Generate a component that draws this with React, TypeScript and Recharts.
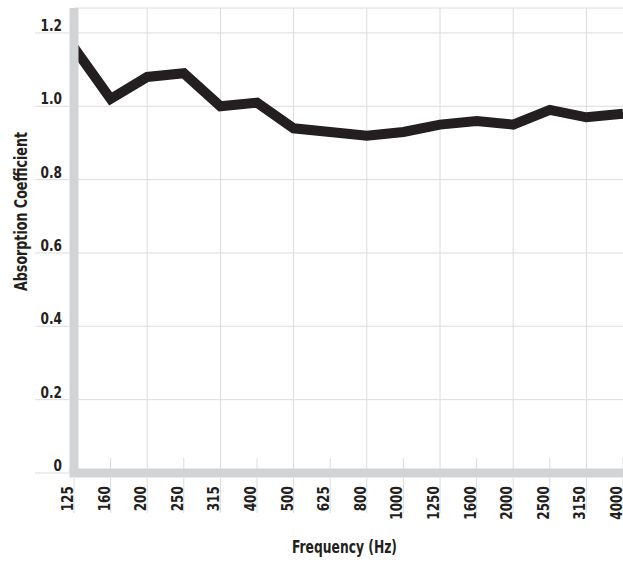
import React from "react";
import { LineChart, Line, XAxis, YAxis, CartesianGrid, ReferenceLine, Label } from "recharts";

const FREQUENCIES = ["125", "160", "200", "250", "315", "400", "500", "625", "800", "1000", "1250", "1600", "2000", "2500", "3150", "4000"];
const ABSORPTION = [1.16, 1.02, 1.08, 1.09, 1.0, 1.01, 0.94, 0.93, 0.92, 0.93, 0.95, 0.96, 0.95, 0.99, 0.97, 0.98];
const Y_TICKS = [0, 0.2, 0.4, 0.6, 0.8, 1.0, 1.2];
const Y_LABELS = ["0", "0.2", "0.4", "0.6", "0.8", "1.0", "1.2"];

const data = FREQUENCIES.map((freq, i) => ({ freq, value: ABSORPTION[i] }));

// every other band gets a full grid line, the rest a short mark above the axis
const MAJOR = FREQUENCIES.filter((_, i) => i % 2 === 0 && i > 0);
const MINOR = FREQUENCIES.filter((_, i) => i % 2 === 1);

const FONT = '"Liberation Sans Narrow", "DejaVu Sans Condensed", "Arial Narrow", sans-serif';
const GRID = "#dcdcdc";
const AXIS = "#d1d3d4";
const INK = "#231f20";

const XTick = (props: any) => {
  const { x, y, payload } = props;
  return (
    <g>
      <line x1={x} x2={x} y1={y + 5} y2={y + 40} stroke={GRID} strokeWidth={1} />
      <text
        transform={`translate(${x - 1}, ${y + 13}) rotate(-90) scale(0.9, 1)`}
        textAnchor="end"
        fontFamily={FONT}
        fontSize={15}
        fontWeight={600}
        fill={INK}
      >
        {payload.value}
      </text>
    </g>
  );
};

const YTick = (props: any) => {
  const { x, y, payload, index } = props;
  return (
    <g>
      <line x1={x - 39} x2={x - 5} y1={y} y2={y} stroke={GRID} strokeWidth={1} />
      <text
        transform={`translate(${x - 12}, ${y - 2}) scale(0.9, 1)`}
        textAnchor="end"
        fontFamily={FONT}
        fontSize={15}
        fontWeight={600}
        fill={INK}
      >
        {Y_LABELS[index] ?? payload.value}
      </text>
    </g>
  );
};

export default function App() {
  return (
    <div style={{ position: "absolute", left: 0, top: 0, background: "#fff" }}>
      <LineChart width={623} height={563} data={data} margin={{ top: 8, right: 0, bottom: 0, left: 0 }}>
        <CartesianGrid vertical={false} stroke={GRID} strokeDasharray="0" />
        {MAJOR.map((f) => (
          <ReferenceLine key={f} x={f} stroke={GRID} strokeWidth={1} />
        ))}
        {MINOR.map((f) => (
          <ReferenceLine
            key={f}
            segment={[
              { x: f, y: 0 },
              { x: f, y: 0.041 },
            ]}
            stroke={GRID}
            strokeWidth={1}
          />
        ))}
        <Line
          type="linear"
          dataKey="value"
          stroke={INK}
          strokeWidth={10}
          dot={false}
          activeDot={false}
          isAnimationActive={false}
        />
        <XAxis
          dataKey="freq"
          type="category"
          interval={0}
          padding={{ left: 0, right: 0 }}
          height={90}
          tickSize={0}
          tickMargin={0}
          tickLine={false}
          tick={<XTick />}
          axisLine={{ stroke: AXIS, strokeWidth: 9, strokeLinecap: "square" }}
        >
          <Label
            content={(p: any) => {
              const vb = p.viewBox;
              return (
                <text
                  x={vb.x + vb.width / 2 - 4}
                  y={vb.y + 80}
                  textAnchor="middle"
                  fontFamily={FONT}
                  fontSize={18.5}
                  fontWeight="bold"
                  fill={INK}
                  textLength={105}
                  lengthAdjust="spacingAndGlyphs"
                >
                  Frequency (Hz)
                </text>
              );
            }}
          />
        </XAxis>
        <YAxis
          type="number"
          domain={[0, 1.268]}
          ticks={Y_TICKS}
          allowDataOverflow
          width={74}
          tickSize={0}
          tickMargin={0}
          tickLine={false}
          tick={<YTick />}
          axisLine={{ stroke: AXIS, strokeWidth: 9 }}
        >
          <Label
            content={(p: any) => {
              const vb = p.viewBox;
              const cx = vb.x + 27;
              const cy = vb.y + vb.height / 2 - 29;
              return (
                <text
                  x={cx}
                  y={cy}
                  transform={`rotate(-90, ${cx}, ${cy})`}
                  textAnchor="middle"
                  fontFamily={FONT}
                  fontSize={18.5}
                  fontWeight="bold"
                  fill={INK}
                  textLength={159}
                  lengthAdjust="spacingAndGlyphs"
                >
                  Absorption Coefficient
                </text>
              );
            }}
          />
        </YAxis>
      </LineChart>
    </div>
  );
}
